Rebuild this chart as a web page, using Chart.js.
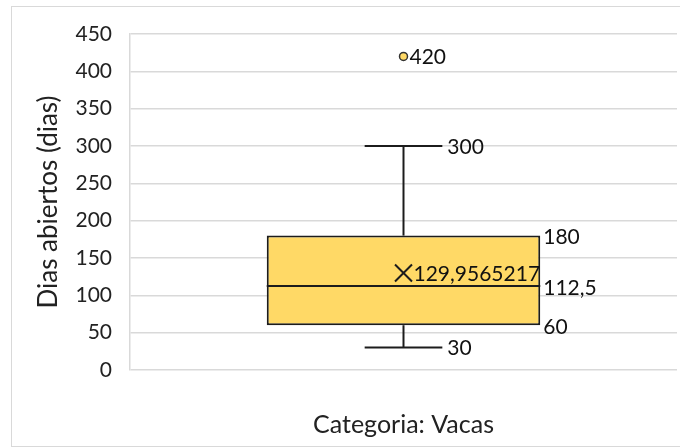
<!DOCTYPE html>
<html>
<head>
<meta charset="utf-8">
<script src="https://cdn.jsdelivr.net/npm/chart.js@4/dist/chart.umd.min.js"></script>
<style>
  html, body { margin: 0; padding: 0; background: #fff; }
  #wrap { width: 680px; height: 448px; position: relative; }
</style>
</head>
<body>
<div id="wrap"><canvas id="c" width="680" height="448"></canvas></div>
<script>
// Box plot summary per category
const categories = ['Vacas'];
const whiskerMin = [30];
const quartile1 = [60];
const medians = [112.5];
const quartile3 = [180];
const whiskerMax = [300];
const means = [129.9565217];
const outliers = [420];
const yTickValues = [0, 50, 100, 150, 200, 250, 300, 350, 400, 450];

const INK = '#1c1c1c';
const FILL = '#FFD966';
const GRID = '#D9D9D9';
const FONT = 'Lato, "Open Sans", sans-serif';

// Spanish decimal comma
const fmt = v => String(v).replace('.', ',');

Chart.defaults.font.family = FONT;
Chart.defaults.font.size = 21;
Chart.defaults.color = '#222';

const boxParts = {
  id: 'boxParts',
  beforeDraw(chart) {
    const ctx = chart.ctx;
    ctx.save();
    ctx.fillStyle = '#fff';
    ctx.fillRect(0, 0, chart.width, chart.height);
    ctx.strokeStyle = GRID;
    ctx.lineWidth = 1;
    ctx.strokeRect(11.5, 6.5, chart.width, chart.height - 8);
    ctx.restore();
  },
  afterDatasetsDraw(chart) {
    const ctx = chart.ctx;
    const y = chart.scales.y;
    const boxes = chart.getDatasetMeta(0).data;
    const meanPts = chart.getDatasetMeta(1).data;
    const outPts = chart.getDatasetMeta(2).data;
    const line = (x1, y1, x2, y2) => {
      ctx.beginPath(); ctx.moveTo(x1, y1); ctx.lineTo(x2, y2); ctx.stroke();
    };
    ctx.save();
    ctx.strokeStyle = INK;
    ctx.lineWidth = 2;
    ctx.lineCap = 'butt';
    boxes.forEach((bar, i) => {
      const cx = bar.x;
      const half = bar.width / 2;
      const cap = bar.width * 0.142;
      const pMin = y.getPixelForValue(whiskerMin[i]);
      const pQ1 = y.getPixelForValue(quartile1[i]);
      const pMed = y.getPixelForValue(medians[i]);
      const pQ3 = y.getPixelForValue(quartile3[i]);
      const pMax = y.getPixelForValue(whiskerMax[i]);
      // whiskers and caps
      line(cx, pQ3, cx, pMax);
      line(cx - cap, pMax, cx + cap, pMax);
      line(cx, pQ1, cx, pMin);
      line(cx - cap, pMin, cx + cap, pMin);
      // median
      line(cx - half, pMed, cx + half, pMed);

      // value labels
      ctx.fillStyle = '#111';
      ctx.font = '21px ' + FONT;
      ctx.textAlign = 'left';
      ctx.textBaseline = 'middle';
      ctx.fillText(fmt(whiskerMax[i]), cx + cap + 5, pMax + 1);
      ctx.fillText(fmt(whiskerMin[i]), cx + cap + 5, pMin + 1);
      ctx.fillText(fmt(quartile3[i]), cx + half + 3, pQ3 + 2);
      ctx.fillText(fmt(medians[i]), cx + half + 3, pMed + 2);
      ctx.fillText(fmt(quartile1[i]), cx + half + 3, pQ1 + 2);
      const m = meanPts[i];
      ctx.fillText(fmt(means[i]), m.x + 10, m.y + 1);
      const o = outPts[i];
      ctx.fillText(fmt(outliers[i]), o.x + 6, o.y + 1);
    });
    ctx.restore();
  }
};

new Chart(document.getElementById('c'), {
  data: {
    labels: categories,
    datasets: [
      {
        type: 'bar',
        label: 'Caja',
        data: categories.map((c, i) => [quartile1[i], quartile3[i]]),
        backgroundColor: FILL,
        borderColor: INK,
        borderWidth: 2,
        borderSkipped: false,
        barPercentage: 0.5,
        categoryPercentage: 1,
        order: 3
      },
      {
        type: 'line',
        label: 'Media',
        data: means,
        showLine: false,
        pointStyle: 'crossRot',
        pointRadius: 12,
        pointBorderWidth: 2,
        borderColor: INK,
        order: 1
      },
      {
        type: 'line',
        label: 'Atípicos',
        data: outliers,
        showLine: false,
        pointStyle: 'circle',
        pointRadius: 4,
        pointBorderWidth: 1.5,
        backgroundColor: FILL,
        borderColor: '#333',
        order: 2
      }
    ]
  },
  options: {
    responsive: false,
    devicePixelRatio: 1,
    animation: false,
    layout: { autoPadding: false, padding: { top: 34, right: 3, bottom: 0, left: 0 } },
    plugins: {
      legend: { display: false },
      tooltip: { enabled: false }
    },
    scales: {
      x: {
        type: 'category',
        offset: true,
        grid: { display: false },
        border: { display: false },
        ticks: { display: false },
        title: {
          display: true,
          text: 'Categoria: Vacas',
          color: '#222',
          font: { size: 25 },
          padding: { top: 0, bottom: 8 }
        },
        afterFit(s) { s.height = 78; }
      },
      y: {
        min: 0,
        max: 450,
        afterBuildTicks(s) { s.ticks = yTickValues.map(v => ({ value: v })); },
        ticks: { padding: 18, color: '#222', font: { size: 21 } },
        grid: { color: GRID, lineWidth: 1.5, drawTicks: false },
        border: { display: true, color: GRID, width: 1.5 },
        title: {
          display: true,
          text: 'Dias abiertos (dias)',
          color: '#222',
          font: { size: 26 },
          padding: { top: 33, bottom: 0 }
        },
        afterFit(s) { s.width = 130; }
      }
    }
  },
  plugins: [boxParts]
});
</script>
</body>
</html>
